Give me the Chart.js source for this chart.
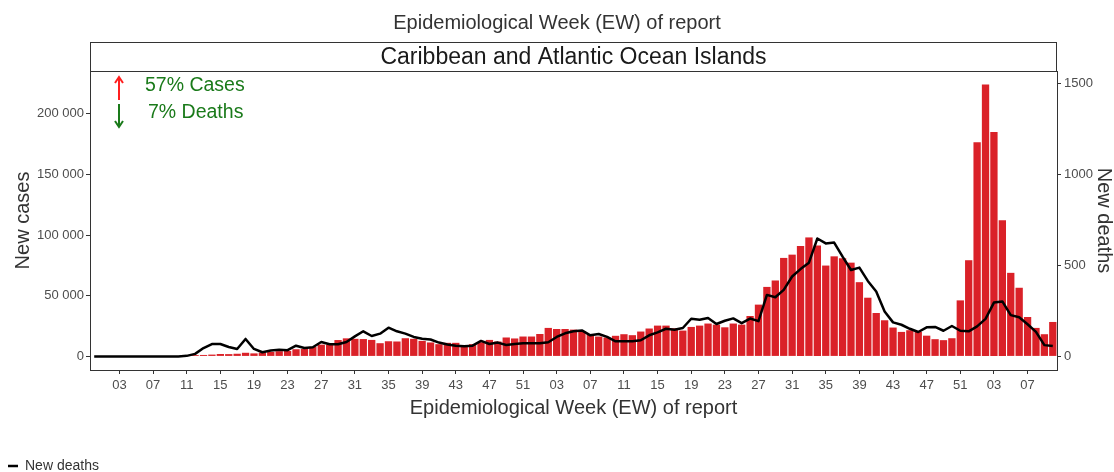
<!DOCTYPE html>
<html>
<head>
<meta charset="utf-8">
<script src="https://cdn.jsdelivr.net/npm/chart.js@4.4.1/dist/chart.umd.min.js"></script>
<style>
  html, body { margin: 0; padding: 0; background: #fff; }
</style>
</head>
<body>
<canvas id="epiChart" width="1114" height="472"></canvas>
<script>
// Epidemiological weeks, 2019 EW52 to 2022 EW10
const weeks = [
  '52',
  '01','02','03','04','05','06','07','08','09','10','11','12','13','14','15','16','17','18','19','20','21','22','23','24','25','26',
  '27','28','29','30','31','32','33','34','35','36','37','38','39','40','41','42','43','44','45','46','47','48','49','50','51','52',
  '01','02','03','04','05','06','07','08','09','10','11','12','13','14','15','16','17','18','19','20','21','22','23','24','25','26',
  '27','28','29','30','31','32','33','34','35','36','37','38','39','40','41','42','43','44','45','46','47','48','49','50','51','52',
  '01','02','03','04','05','06','07','08','09','10'
];
const xTickLabels = ['03','07','11','15','19','23','27','31','35','39','43','47','51'];

const newCases = [
  0, 0, 0, 0, 0, 0, 0, 0, 0, 0, 0, 300, 1100, 1200, 1500, 2000, 1900, 2200, 3000, 2500,
  3100, 3700, 4300, 4500, 5900, 6100, 7800, 9700, 9700, 13500,
  14900, 14500, 14300, 13600, 10900, 12500, 12300, 15000, 14500, 12800,
  11500, 10100, 11200, 11200, 9000, 10100, 11700, 13600, 12300, 15600,
  14800, 16400, 16400, 18500, 23500, 22600, 22600, 22100, 20800, 18000,
  16400, 15600, 17000, 18300, 17500, 20500, 23000, 25400, 25400, 23200,
  21300, 24300, 25400, 27100, 26200, 24000, 27100, 26200, 33300, 42700,
  57300, 62600, 81200, 83900, 91000, 98100, 91500, 74900, 82500, 80900,
  77300, 61200, 48400, 35800, 29800, 23800, 20200, 21600, 20300, 17100,
  14200, 13400, 15000, 46200, 79300, 176500, 224100, 185000, 112300, 68900,
  56600, 32500, 23500, 18300, 28400
];

const newDeaths = [
  0, 0, 0, 0, 0, 0, 0, 0, 0, 0, 0, 3, 14, 46, 68, 68, 52, 41, 96, 41,
  23, 32, 36, 34, 59, 46, 50, 79, 67, 67,
  79, 110, 138, 112, 125, 158, 138, 125, 107, 97,
  93, 76, 65, 59, 56, 59, 85, 68, 76, 63,
  68, 72, 72, 72, 78, 107, 127, 138, 143, 116,
  123, 107, 83, 83, 83, 89, 116, 132, 152, 147,
  156, 207, 201, 211, 178, 196, 209, 183, 208, 194,
  338, 325, 366, 439, 480, 515, 648, 621, 626, 548,
  475, 488, 415, 357, 247, 187, 174, 152, 134, 160,
  162, 141, 167, 141, 138, 165, 206, 296, 302, 227,
  215, 177, 135, 62, 57
];

const caseTicks = [0, 50000, 100000, 150000, 200000];
const deathTicks = [0, 500, 1000, 1500];

const panelTitle = 'Caribbean and Atlantic Ocean Islands';
const casesNote = '57% Cases';
const deathsNote = '7% Deaths';

Chart.defaults.font.family = '"Liberation Sans", Arial, sans-serif';

// thousands with a space: 200 000
function spaced(v) {
  return String(v).replace(/\B(?=(\d{3})+(?!\d))/g, ' ');
}

// facet strip and the percentage notes
const panelStrip = {
  id: 'panelStrip',
  afterDraw(chart) {
    const ctx = chart.ctx;
    const a = chart.chartArea;
    const stripTop = a.top - 29;
    ctx.save();
    ctx.fillStyle = '#fff';
    ctx.fillRect(a.left, stripTop, a.right - a.left, 29);
    ctx.strokeStyle = '#333';
    ctx.lineWidth = 1;
    ctx.strokeRect(a.left + 0.5, stripTop + 0.5, a.right - a.left - 1, 29);
    ctx.fillStyle = '#1a1a1a';
    ctx.font = '23px "Liberation Sans", Arial, sans-serif';
    ctx.textAlign = 'center';
    ctx.textBaseline = 'middle';
    ctx.fillText(panelTitle, (a.left + a.right) / 2, stripTop + 16);

    // arrows
    const ax = a.left + 29;
    ctx.lineWidth = 2;
    ctx.strokeStyle = '#ff1f1f';
    ctx.beginPath();
    ctx.moveTo(ax, a.top + 29); ctx.lineTo(ax, a.top + 6);
    ctx.moveTo(ax - 4, a.top + 12); ctx.lineTo(ax, a.top + 6); ctx.lineTo(ax + 4, a.top + 12);
    ctx.stroke();
    ctx.strokeStyle = '#1a7a1a';
    ctx.beginPath();
    ctx.moveTo(ax, a.top + 33); ctx.lineTo(ax, a.top + 56);
    ctx.moveTo(ax - 4, a.top + 50); ctx.lineTo(ax, a.top + 56); ctx.lineTo(ax + 4, a.top + 50);
    ctx.stroke();

    ctx.fillStyle = '#1a7a1a';
    ctx.font = '19.5px "Liberation Sans", Arial, sans-serif';
    ctx.textAlign = 'left';
    ctx.fillText(casesNote, a.left + 55, a.top + 15);
    ctx.fillText(deathsNote, a.left + 58, a.top + 42);
    ctx.restore();
  }
};

new Chart(document.getElementById('epiChart'), {
  type: 'bar',
  data: {
    labels: weeks,
    datasets: [
      {
        type: 'line',
        label: 'New deaths',
        data: newDeaths,
        yAxisID: 'y1',
        borderColor: '#000',
        backgroundColor: '#000',
        borderWidth: 2.5,
        pointRadius: 0,
        tension: 0,
        borderJoinStyle: 'round',
        order: 0
      },
      {
        label: 'New cases',
        data: newCases,
        yAxisID: 'y',
        backgroundColor: '#da2128',
        barPercentage: 0.87,
        categoryPercentage: 1.0,
        order: 1
      }
    ]
  },
  options: {
    responsive: false,
    animation: false,
    devicePixelRatio: 1,
    layout: { padding: { top: 0, left: 0, right: 0, bottom: -11 } },
    plugins: {
      tooltip: { enabled: false },
      title: {
        display: true,
        text: 'Epidemiological Week (EW) of report',
        color: '#333',
        font: { size: 20, weight: 'normal' },
        padding: { top: 11, bottom: 36 }
      },
      legend: {
        display: true,
        position: 'bottom',
        align: 'start',
        labels: {
          filter: item => item.text === 'New deaths',
          usePointStyle: true,
          pointStyle: 'line',
          pointStyleWidth: 10,
          color: '#333',
          font: { size: 14 },
          padding: 8
        }
      }
    },
    scales: {
      x: {
        offset: true,
        grid: { display: true, drawOnChartArea: false, drawTicks: true, tickLength: 4, tickColor: '#333', offset: false },
        border: { display: true, color: '#333', width: 1 },
        ticks: { autoSkip: false, maxRotation: 0, color: '#4d4d4d', font: { size: 13 }, padding: 4 },
        afterBuildTicks: s => { s.ticks = s.ticks.filter(t => xTickLabels.includes(weeks[t.value])); },
        afterFit: s => { s.height = 81; },
        title: {
          display: true,
          text: 'Epidemiological Week (EW) of report',
          color: '#333',
          font: { size: 20 },
          padding: { top: 0, bottom: 31 }
        }
      },
      y: {
        position: 'left',
        min: -11200,
        max: 235300,
        afterBuildTicks: s => { s.ticks = caseTicks.map(v => ({ value: v })); },
        grid: { drawOnChartArea: false, tickLength: 4, tickColor: '#333' },
        border: { display: true, color: '#333', width: 1 },
        ticks: { color: '#4d4d4d', font: { size: 13 }, padding: 2, callback: v => spaced(v) },
        afterFit: s => { s.width = 90; },
        title: {
          display: true,
          text: 'New cases',
          color: '#333',
          font: { size: 20, lineHeight: 1 },
          padding: { top: 13, bottom: 0 }
        }
      },
      y1: {
        position: 'right',
        min: -74.7,
        max: 1568.7,
        afterBuildTicks: s => { s.ticks = deathTicks.map(v => ({ value: v })); },
        grid: { drawOnChartArea: false, tickLength: 4, tickColor: '#333' },
        border: { display: true, color: '#333', width: 1 },
        ticks: { color: '#4d4d4d', font: { size: 13 }, padding: 3, callback: v => String(v) },
        afterFit: s => { s.width = 57; },
        title: {
          display: true,
          text: 'New deaths',
          color: '#333',
          font: { size: 20, lineHeight: 1 },
          padding: { top: 0, bottom: 0 }
        }
      }
    }
  },
  plugins: [panelStrip]
});
</script>
</body>
</html>
